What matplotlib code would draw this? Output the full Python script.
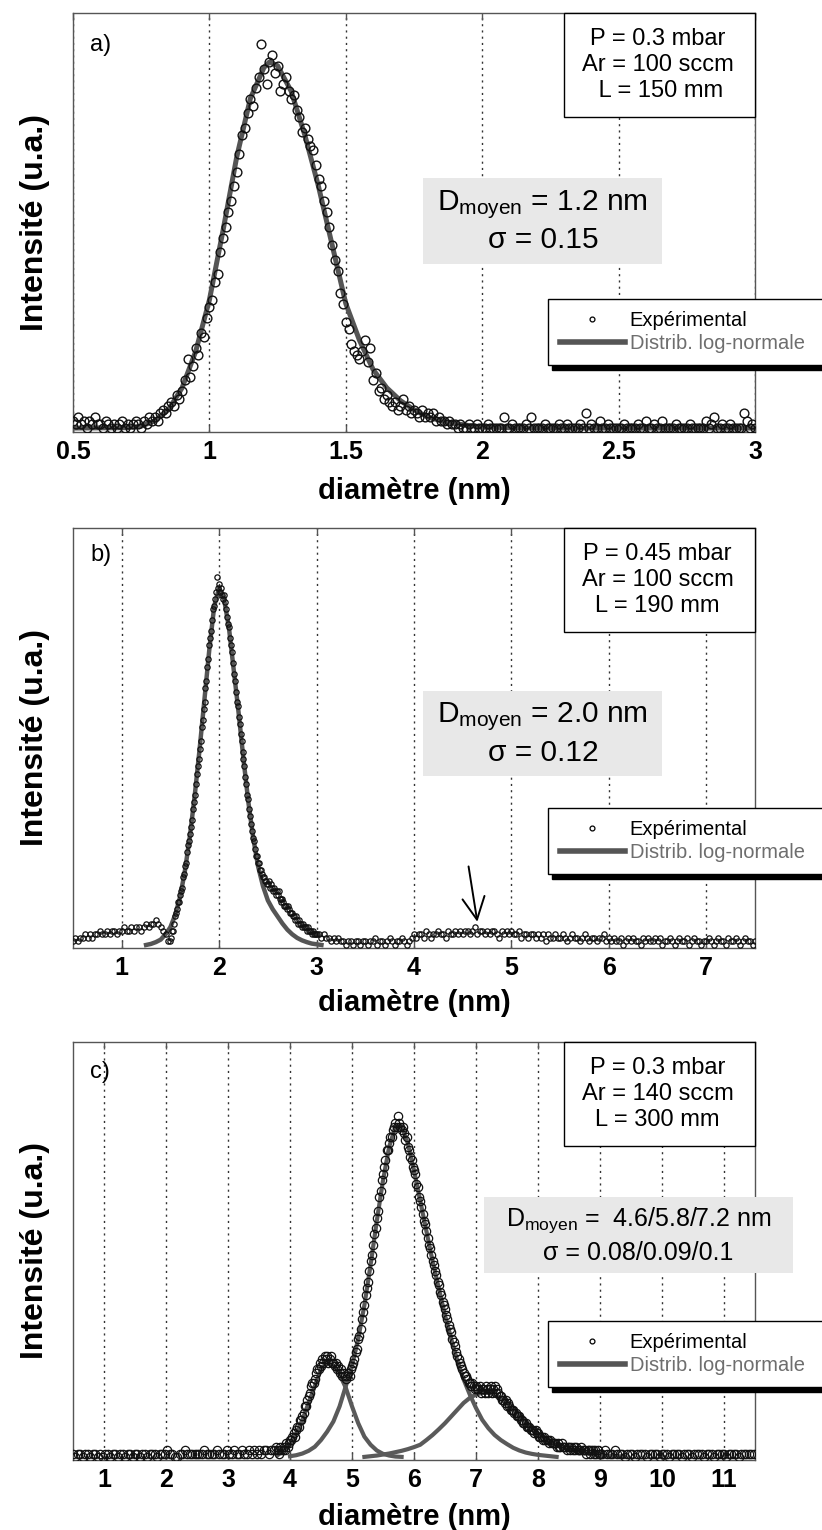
import numpy as np
import matplotlib
matplotlib.use("Agg")
import matplotlib.pyplot as plt
from matplotlib.patches import Rectangle
from matplotlib.lines import Line2D

plt.rcParams['font.family'] = ['Liberation Sans', 'DejaVu Sans']
plt.rcParams['mathtext.fontset'] = 'custom'
plt.rcParams['mathtext.rm'] = 'Liberation Sans'
plt.rcParams['mathtext.it'] = 'Liberation Sans:italic'
plt.rcParams['mathtext.bf'] = 'Liberation Sans:bold'

# intensities are in % of the fitted maximum

# --- panel a : experimental points every 0.01 nm from 0.50 to 3.00
a_exp = [2, 1, 3, 1, 2, 0, 2, 1, 3, 1,
         1, 0, 2, 1, 0, 1, 0, 1, 2, 0,
         1, 0, 1, 2, 1, 0, 2, 1, 3, 2,
         3, 2, 4, 5, 4, 6, 7, 6, 9, 8,
         10, 13, 19, 14, 17, 22, 20, 26, 25, 30,
         33, 35, 40, 42, 48, 52, 55, 59, 62, 66,
         70, 75, 80, 82, 86, 90, 88, 93, 96, 105,
         98, 94, 100, 102, 97, 99, 92, 94, 96, 92,
         90, 91, 87, 85, 81, 82, 79, 77, 76, 72,
         68, 66, 62, 59, 55, 50, 46, 43, 37, 34,
         29, 27, 23, 21, 20, 19, 21, 24, 18, 22,
         13, 15, 10, 11, 8, 9, 7, 6, 7, 5,
         6, 8, 5, 6, 4, 5, 4, 3, 5, 3,
         4, 3, 4, 2, 3, 2, 2, 1, 2, 1,
         1, 0, 1, 0, 0, 1, 0, 0, 1, 0,
         0, 0, 1, 0, 0, 0, 0, 0, 3, 0,
         0, 1, 0, 0, 0, 0, 1, 0, 3, 0,
         0, 0, 0, 1, 0, 0, 0, 0, 1, 0,
         0, 1, 0, 0, 0, 0, 1, 0, 4, 0,
         1, 0, 0, 2, 0, 0, 1, 0, 0, 0,
         0, 0, 1, 0, 0, 0, 0, 1, 0, 0,
         2, 0, 0, 1, 0, 0, 2, 0, 0, 0,
         0, 1, 0, 0, 0, 0, 1, 0, 0, 0,
         0, 0, 2, 0, 1, 3, 0, 0, 1, 0,
         0, 1, 0, 0, 0, 0, 4, 2, 0, 1,
         0]
a_fit_x = [0.50, 0.70, 0.75, 0.80, 0.85, 0.90, 0.95, 1.00, 1.05, 1.10, 1.15, 1.20,
           1.22, 1.25, 1.30, 1.35, 1.40, 1.45, 1.50, 1.55, 1.60, 1.65, 1.70,
           1.75, 1.80, 1.85, 1.90, 1.95, 2.00, 2.10, 2.20, 3.00]
a_fit_y = [0, 0.1, 0.5, 2, 5, 11, 21, 35, 54, 74, 90, 98.5,
           100, 99, 92, 80, 66, 50, 34, 24, 16, 11, 7.5,
           5, 3, 2, 1.2, 0.7, 0.3, 0.1, 0, 0]

# --- panel b : 0.5-1.475 every 0.025, 1.50-2.99 every 0.01, 3.0-7.5 every 0.025
b_exp_1 = [1, 2, 1, 2, 2, 3, 2, 3, 2, 3, 3, 4, 3, 3, 4, 3, 4, 4, 3, 4,
           4, 5, 4, 4, 5, 4, 5, 5, 4, 5, 6, 5, 6, 6, 7, 6, 5, 4, 3, 1]
b_exp_2 = [1, 2, 4, 4, 6, 8, 9, 10, 12, 12,
           14, 15, 16, 19, 20, 22, 23, 26, 28, 29,
           31, 33, 35, 38, 40, 42, 45, 48, 50, 52,
           55, 57, 61, 63, 66, 68, 72, 74, 78, 80,
           84, 86, 88, 91, 94, 95, 97, 99, 103, 100,
           101, 99, 100, 98, 97, 98, 96, 94, 92, 90,
           89, 86, 84, 82, 79, 76, 74, 71, 68, 67,
           64, 62, 59, 57, 54, 52, 50, 47, 45, 42,
           41, 38, 36, 34, 32, 30, 29, 27, 25, 25,
           23, 23, 21, 21, 20, 19, 19, 18, 18, 17,
           17, 18, 16, 17, 16, 15, 16, 15, 14, 15,
           14, 15, 13, 13, 12, 13, 12, 11, 11, 11,
           10, 11, 10, 9, 9, 9, 8, 8, 7, 8,
           7, 6, 7, 6, 6, 5, 6, 5, 5, 5,
           4, 5, 4, 4, 4, 3, 4, 3, 3, 3]
b_exp_3 = [3, 3, 2, 3, 2, 2, 1, 2, 1, 2, 1, 1, 0, 1, 1, 0, 1, 1, 0, 1,
           1, 0, 1, 1, 2, 0, 1, 1, 0, 1, 2, 1, 0, 1, 1, 2, 1, 0, 1, 2,
           3, 2, 3, 3, 2, 4, 3, 2, 3, 3, 4, 3, 3, 2, 4, 3, 3, 4, 3, 4,
           3, 4, 4, 3, 4, 5, 3, 4, 4, 3, 4, 3, 4, 4, 3, 2, 4, 3, 4, 3,
           4, 3, 3, 4, 2, 3, 3, 2, 3, 3, 2, 3, 2, 3, 1, 3, 2, 2, 3, 2,
           2, 3, 2, 1, 2, 3, 2, 2, 1, 2, 3, 2, 1, 2, 2, 1, 2, 2, 3, 1,
           2, 1, 2, 1, 1, 2, 0, 1, 2, 1, 2, 1, 1, 0, 2, 1, 2, 1, 1, 2,
           1, 2, 0, 1, 1, 2, 1, 0, 1, 2, 1, 1, 2, 0, 1, 2, 1, 1, 0, 1,
           1, 2, 1, 0, 1, 2, 1, 1, 0, 2, 1, 1, 2, 1, 0, 1, 2, 1, 1, 0, 1]
b_ranges = [(0.5, 1.475), (1.50, 2.99), (3.0, 7.5)]
b_fit_x = [1.25, 1.30, 1.35, 1.40, 1.45, 1.50, 1.55, 1.60, 1.65, 1.70, 1.75, 1.80,
           1.85, 1.90, 1.95, 2.00, 2.05, 2.10, 2.15, 2.20, 2.25, 2.30, 2.35, 2.40,
           2.45, 2.50, 2.55, 2.60, 2.65, 2.70, 2.75, 2.80, 2.85, 2.90, 2.95, 3.00, 3.05]
b_fit_y = [0, 0.3, 0.8, 1.5, 3, 5, 8.5, 13.5, 21, 30.5, 42, 55,
           69, 83, 95, 100, 97, 89, 77, 65, 52, 40, 30, 22,
           16.5, 12.5, 10, 8, 6, 4.3, 3, 2, 1.3, 0.8, 0.4, 0.2, 0]

# --- panel c : 0.5-3.78 every 0.04, 3.80-9.00 every 0.02, 9.04-11.48 every 0.04
c_exp_1 = [1, 0, 1, 1, 0, 1, 1, 0, 1, 1, 0, 1, 0, 1, 1, 0, 1, 1, 0, 1, 1, 0, 1, 1, 0,
           1, 1, 0, 1, 1, 0, 1, 1, 1, 0, 1, 1, 1, 2, 1, 1, 0, 0, 1, 1, 2, 1, 1, 1, 1,
           1, 1, 1, 2, 1, 1, 1, 1, 2, 1, 1, 1, 2, 1, 1, 2, 1, 1, 2, 1, 1, 2, 1, 2, 1,
           2, 1, 2, 2, 1, 2, 2, 3]
c_exp_2 = [2, 1, 3, 2, 2, 3, 2, 4, 3, 4,
           5, 5, 6, 7, 6, 8, 9, 9, 11, 11,
           12, 13, 15, 15, 17, 18, 19, 21, 22, 22,
           23, 25, 26, 26, 28, 27, 29, 28, 30, 29,
           30, 28, 29, 30, 28, 28, 27, 28, 26, 27,
           25, 26, 24, 25, 24, 23, 24, 25, 24, 26,
           27, 28, 29, 31, 32, 35, 36, 38, 41, 43,
           45, 48, 50, 52, 55, 58, 60, 63, 66, 68,
           71, 73, 77, 79, 82, 84, 86, 88, 91, 91,
           93, 95, 95, 97, 98, 99, 98, 101, 99, 98,
           97, 98, 96, 94, 95, 92, 91, 89, 88, 86,
           85, 84, 81, 80, 77, 76, 74, 72, 70, 69,
           67, 65, 63, 62, 60, 58, 57, 55, 54, 52,
           51, 49, 48, 46, 45, 44, 42, 41, 39, 38,
           37, 35, 34, 33, 31, 30, 29, 28, 27, 26,
           25, 24, 24, 23, 22, 22, 21, 22, 21, 20,
           21, 20, 20, 21, 19, 20, 20, 19, 21, 20,
           19, 20, 21, 19, 20, 21, 19, 20, 19, 18,
           18, 17, 17, 16, 17, 15, 16, 15, 14, 14,
           14, 13, 13, 12, 12, 12, 11, 11, 10, 10,
           10, 9, 9, 9, 8, 8, 8, 7, 8, 7,
           7, 6, 6, 6, 5, 6, 5, 5, 5, 4,
           5, 4, 4, 4, 4, 3, 4, 3, 3, 4,
           3, 3, 3, 2, 3, 3, 2, 3, 2, 3,
           2, 3, 2, 2, 2, 3, 2, 2, 2, 1,
           2, 2, 1, 2, 2, 1, 2, 1, 2, 1,
           1]
c_exp_3 = [1, 2, 1, 1, 1, 2, 1, 1, 1, 0,
           1, 1, 1, 0, 1, 1, 1, 1, 0, 1,
           1, 1, 1, 0, 1, 1, 1, 0, 1, 1,
           1, 1, 0, 1, 1, 1, 0, 1, 1, 1,
           1, 0, 1, 1, 1, 0, 1, 1, 1, 1,
           0, 1, 1, 1, 1, 0, 1, 1, 1, 1,
           1, 1]
c_ranges = [(0.5, 3.78), (3.80, 9.00), (9.04, 11.48)]
c_fit1_x = [3.8, 3.9, 4.0, 4.1, 4.2, 4.3, 4.4, 4.5, 4.6, 4.7, 4.8, 4.9, 5.0,
            5.1, 5.2, 5.3, 5.4, 5.5, 5.6, 5.7, 5.8]
c_fit1_y = [0.5, 2, 4, 7, 11, 16, 21, 26, 28, 27, 24.5, 20.5, 15,
            10, 6, 3.6, 1.9, 0.9, 0.4, 0.1, 0]
c_fit2_x = [4.0, 4.1, 4.2, 4.3, 4.4, 4.5, 4.6, 4.7, 4.8, 4.9,
            5.0, 5.1, 5.2, 5.3, 5.4, 5.5, 5.6, 5.7, 5.8, 5.9,
            6.0, 6.1, 6.2, 6.3, 6.4, 6.5, 6.6, 6.7, 6.8, 6.9,
            7.0, 7.1, 7.2, 7.3, 7.4, 7.5, 7.6, 7.7, 7.8, 7.9,
            8.0, 8.1, 8.2, 8.3]
c_fit2_y = [0.2, 0.5, 1, 1.8, 3, 5, 7.5, 10.5, 15, 21,
            27, 35, 45, 57, 70, 82, 92, 98, 98, 93,
            85, 76, 67, 58, 50, 42, 35, 28.5, 23, 18.5,
            14.5, 11, 8.5, 6.5, 5, 3.8, 2.7, 1.9, 1.3, 0.9,
            0.6, 0.4, 0.2, 0]
c_fit3_x = [5.2, 5.3, 5.4, 5.5, 5.6, 5.7, 5.8, 5.9, 6.0, 6.1, 6.2, 6.3, 6.4, 6.5,
            6.6, 6.7, 6.8, 6.9, 7.0, 7.1, 7.2, 7.3, 7.4, 7.5, 7.6, 7.7, 7.8, 7.9,
            8.0, 8.2, 8.4, 8.6, 8.8, 9.0, 9.2, 9.4]
c_fit3_y = [0, 0.2, 0.4, 0.7, 1.0, 1.4, 1.8, 2.3, 2.9, 3.6, 5, 6.5, 8.2, 10,
            12, 14, 16, 17.5, 18.5, 19, 19, 18.5, 17.5, 16, 14, 12, 10, 8.5,
            7, 4.5, 2.8, 1.7, 1.0, 0.5, 0.3, 0.1]

a_ticks = [0.5, 1, 1.5, 2, 2.5, 3]
a_ticklabels = ['0.5', '1', '1.5', '2', '2.5', '3']
b_ticks = [1, 2, 3, 4, 5, 6, 7]
c_ticks = [1, 2, 3, 4, 5, 6, 7, 8, 9, 10, 11]

params_text = ['P = 0.3 mbar\nAr = 100 sccm\n L = 150 mm',
               'P = 0.45 mbar\nAr = 100 sccm\nL = 190 mm',
               'P = 0.3 mbar\nAr = 140 sccm\nL = 300 mm']
fit_text = [r'D$_{\mathrm{moyen}}$ = 1.2 nm' + '\n' + 'σ = 0.15',
            r'D$_{\mathrm{moyen}}$ = 2.0 nm' + '\n' + 'σ = 0.12',
            r'D$_{\mathrm{moyen}}$ =  4.6/5.8/7.2 nm' + '\n' + 'σ = 0.08/0.09/0.1']


def segments(parts, ranges):
    xs, ys = [], []
    for vals, (lo, hi) in zip(parts, ranges):
        xs.append(np.linspace(lo, hi, len(vals)))
        ys.extend(vals)
    return np.concatenate(xs), ys


fig = plt.figure(figsize=(8.22, 15.3), dpi=100)

ax_a = fig.add_axes([0.0888, 0.7176, 0.8297, 0.2739])
ax_b = fig.add_axes([0.0888, 0.3804, 0.8297, 0.2745])
ax_c = fig.add_axes([0.0888, 0.0458, 0.8297, 0.2732])

fitcol = '#555555'


def style_axes(ax, xlim, ylim, ticks, ticklabels, letter, letter_y, xlab_y):
    ax.set_xlim(xlim)
    ax.set_ylim(ylim)
    ax.set_xticks(ticks)
    ax.set_xticklabels(ticklabels, fontsize=18, fontweight='bold')
    ax.set_yticks([])
    ax.tick_params(axis='x', direction='in', top=True, length=5, width=1,
                   color='#555555', pad=6)
    ax.grid(axis='x', color='#333333', linestyle=(0, (1.5, 3)), linewidth=1)
    for s in ax.spines.values():
        s.set_color('#555555')
        s.set_linewidth(1)
    ax.set_xlabel('diamètre (nm)', fontsize=21, fontweight='bold')
    ax.xaxis.set_label_coords(0.5, xlab_y)
    ax.set_ylabel('Intensité (u.a.)', fontsize=23, fontweight='bold')
    ax.yaxis.set_label_coords(-0.034, 0.5)
    ax.text(0.025, letter_y, letter, transform=ax.transAxes, fontsize=17,
            ha='left', va='center')


def add_boxes(ax, ptxt, ftxt, fbox, fsize, fcx, fline_y):
    # parameter box top right
    ax.add_patch(Rectangle((0.72, 0.752), 0.28, 0.248, transform=ax.transAxes,
                           fc='white', ec='black', lw=1, zorder=6, clip_on=False))
    ax.text(0.857, 0.876, ptxt, transform=ax.transAxes, fontsize=17,
            ha='center', va='center', linespacing=1.25, zorder=7)
    # grey box with fit results
    x0, y0, w, h = fbox
    ax.add_patch(Rectangle((x0, y0), w, h, transform=ax.transAxes,
                           fc='#e8e8e8', ec='none', zorder=6, clip_on=False))
    l1, l2 = ftxt.split('\n')
    ax.text(fcx, fline_y[0], l1, transform=ax.transAxes, fontsize=fsize,
            ha='center', va='center', zorder=7)
    ax.text(fcx, fline_y[1], l2, transform=ax.transAxes, fontsize=fsize,
            ha='center', va='center', zorder=7)


def add_legend(ax, top):
    h1 = Line2D([], [], marker='o', ls='none', mfc='none', mec='black', ms=3.5, mew=0.9)
    h2 = Line2D([], [], color=fitcol, lw=4)
    hgt = 0.17
    leg = ax.legend([h1, h2], ['Expérimental', 'Distrib. log-normale'],
                    loc='upper left', bbox_to_anchor=(0.6965, top - hgt, 0.42, hgt),
                    mode='expand', bbox_transform=ax.transAxes, borderaxespad=0,
                    frameon=True, fancybox=False, framealpha=1,
                    edgecolor='black', fontsize=14.5, handlelength=3.2,
                    handletextpad=0.25, borderpad=0.6, labelspacing=0.2,
                    shadow={'ox': 3, 'oy': -3.5, 'facecolor': 'black',
                            'edgecolor': 'black', 'alpha': 1})
    leg.get_frame().set_linewidth(1)
    leg.get_texts()[1].set_color('#6e6e6e')
    leg.set_zorder(8)


# panel a
xa = np.linspace(0.5, 3.0, len(a_exp))
ax_a.plot(a_fit_x, a_fit_y, color=fitcol, lw=3.6, zorder=2)
ax_a.plot(xa, a_exp, 'o', mfc='none', mec='#111111', ms=6.3, mew=1.0, zorder=3)
style_axes(ax_a, (0.5, 3.0), (-1.1, 113.4), a_ticks, a_ticklabels, 'a)', 0.924, -0.107)
add_boxes(ax_a, params_text[0], fit_text[0], (0.513, 0.401, 0.351, 0.205), 21.5,
          0.689, (0.542, 0.458))
add_legend(ax_a, 0.3174)

# panel b
xb, yb = segments([b_exp_1, b_exp_2, b_exp_3], b_ranges)
ax_b.plot(b_fit_x, b_fit_y, color=fitcol, lw=3.2, zorder=2)
ax_b.plot(xb, yb, 'o', mfc='none', mec='#111111', ms=3.8, mew=0.9, zorder=3)
style_axes(ax_b, (0.5, 7.5), (-0.84, 116.8), b_ticks, [str(t) for t in b_ticks],
           'b)', 0.936, -0.098)
add_boxes(ax_b, params_text[1], fit_text[1], (0.513, 0.410, 0.351, 0.202), 21.5,
          0.689, (0.550, 0.464))
add_legend(ax_b, 0.333)
ax_b.annotate('', xy=(4.65, 6.5), xytext=(4.56, 22),
              arrowprops=dict(arrowstyle='->, head_length=0.4, head_width=0.2',
                              color='black', lw=1.4, mutation_scale=40,
                              shrinkA=0, shrinkB=0), zorder=9)

# panel c
xc, yc = segments([c_exp_1, c_exp_2, c_exp_3], c_ranges)
for fx, fy in [(c_fit1_x, c_fit1_y), (c_fit2_x, c_fit2_y), (c_fit3_x, c_fit3_y)]:
    ax_c.plot(fx, fy, color='#5a5a5a', lw=3, zorder=2)
ax_c.plot(xc, yc, 'o', mfc='none', mec='#111111', ms=6, mew=0.9, zorder=3)
style_axes(ax_c, (0.5, 11.5), (-0.9, 123.1), c_ticks, [str(t) for t in c_ticks],
           'c)', 0.928, -0.103)
add_boxes(ax_c, params_text[2], fit_text[2], (0.603, 0.447, 0.453, 0.182), 18,
          0.829, (0.574, 0.495))
add_legend(ax_c, 0.3325)

fig.savefig('out.png', dpi=100)
